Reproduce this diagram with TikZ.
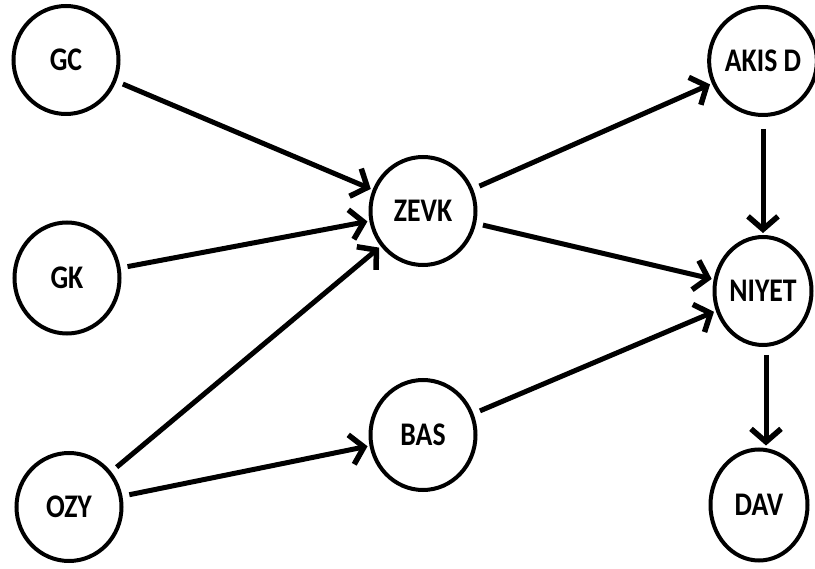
\documentclass[tikz,border=0pt]{standalone}
\usepackage{fontspec}
\newfontfamily\labfont{Carlito}[FakeStretch=0.84]
\usetikzlibrary{shapes.geometric,arrows.meta}
\tikzset{
  nd/.style={draw, ellipse, line width=4pt, inner sep=0pt, minimum width=105pt, minimum height=108pt,
    font=\labfont\bfseries\fontsize{33}{33}\selectfont},
  ndr/.style={nd, minimum width=97pt},
  conn/.style={line width=5pt, -{Straight Barb[length=13pt,width=30pt,line width=5.5pt]}, shorten <=7pt, shorten >=2pt}
}
\begin{document}
\begin{tikzpicture}[x=1pt,y=-1pt]
\useasboundingbox (0,0) rectangle (815,569);
\node[nd] (gc) at (66,60) {GC};
\node[nd, minimum height=111pt] (gk) at (67,278) {GK};
\node[nd] (ozy) at (69,507) {OZY};
\node[nd] (zevk) at (423,211) {ZEVK};
\node[nd, minimum height=110pt] (bas) at (423,435) {BAS};
\node[ndr] (akis) at (763,61) {AKIS D};
\node[ndr] (niyet) at (763,291) {NIYET};
\node[ndr, minimum height=111pt] (dav) at (759,505) {DAV};
\draw[conn] (gc) -- (zevk);
\draw[conn] (gk) -- (zevk);
\draw[conn] (ozy) -- (zevk);
\draw[conn] (ozy) -- (bas);
\draw[conn] (zevk) -- (akis);
\draw[conn] (zevk) -- (niyet);
\draw[conn] (bas) -- (niyet);
\draw[conn, shorten <=12pt] (akis) -- (niyet);
\draw[conn, shorten <=8pt] (niyet.south -| 766,0) -- (dav.north -| 766,0);
\end{tikzpicture}
\end{document}
